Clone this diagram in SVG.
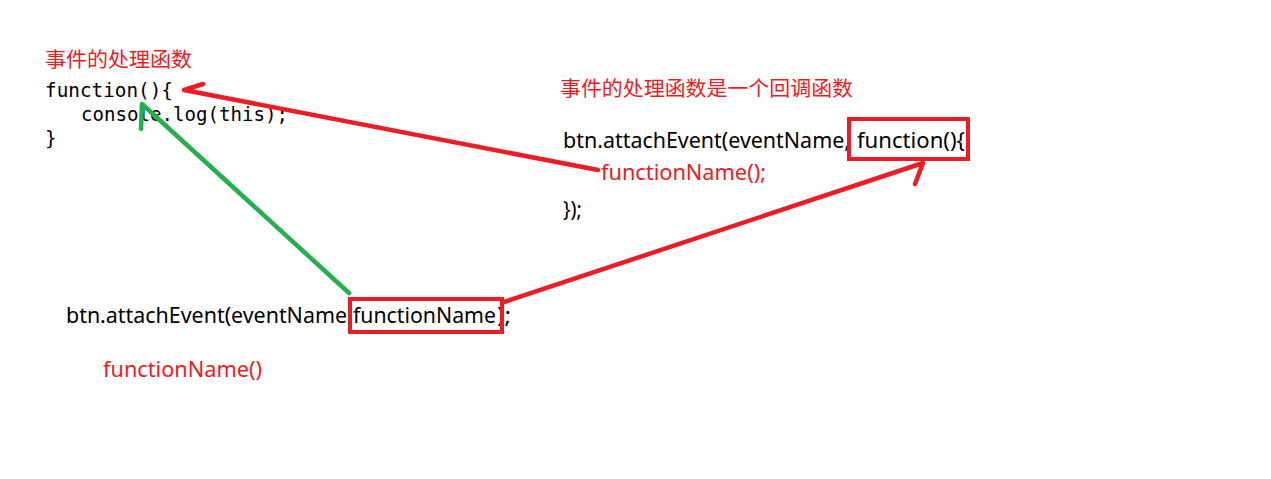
<svg xmlns="http://www.w3.org/2000/svg" width="1271" height="479" viewBox="0 0 1271 479">
<style>
.sans{font-family:"Noto Sans","Open Sans","Noto Sans CJK SC",sans-serif;font-size:21px;fill:#000}
.cjk{font-family:"Noto Sans CJK SC","Noto Sans",sans-serif;font-size:20.5px;fill:#ED1C24}
.mono{font-family:"DejaVu Sans Mono","Liberation Mono",monospace;font-size:19.3px;fill:#000}
.red{fill:#ED1C24}
.box{fill:none;stroke:#ED1C24;stroke-width:4}
.arrow{fill:none;stroke-width:4.5;stroke-linecap:round;stroke-linejoin:round}
</style>
<rect width="1271" height="479" fill="#fff"/>
<g id="handler">
<text class="cjk" x="45" y="67" textLength="147" lengthAdjust="spacingAndGlyphs">事件的处理函数</text>
<text class="mono" x="45" y="97" textLength="128" lengthAdjust="spacingAndGlyphs">function(){</text>
<text class="mono" x="81" y="121" textLength="207" lengthAdjust="spacingAndGlyphs">console.log(this);</text>
<text class="mono" x="45" y="145">}</text>
</g>
<g id="callback">
<text class="cjk" x="560" y="96" textLength="293" lengthAdjust="spacingAndGlyphs">事件的处理函数是一个回调函数</text>
<text class="sans" x="563" y="148" textLength="287" lengthAdjust="spacingAndGlyphs">btn.attachEvent(eventName,</text>
<text class="sans" x="857" y="148" textLength="108" lengthAdjust="spacingAndGlyphs">function(){</text>
<rect class="box" x="849" y="119" width="119" height="40"/>
<text class="sans red" x="601" y="180" textLength="165" lengthAdjust="spacingAndGlyphs">functionName();</text>
<text class="sans" x="563" y="217" textLength="19" lengthAdjust="spacingAndGlyphs">});</text>
</g>
<g id="named">
<text class="sans" x="66" y="323" textLength="281" lengthAdjust="spacingAndGlyphs">btn.attachEvent(eventName</text>
<text class="sans" x="353" y="323" textLength="143" lengthAdjust="spacingAndGlyphs">functionName</text>
<text class="sans" x="497" y="323" textLength="14" lengthAdjust="spacingAndGlyphs">);</text>
<rect class="box" x="350" y="299" width="152" height="33"/>
<text class="sans red" x="103" y="377" textLength="159" lengthAdjust="spacingAndGlyphs">functionName()</text>
</g>
<g id="connectors">
<path class="arrow" stroke="#ED1C24" d="M203,84 L184,90 L598,170"/>
<path class="arrow" stroke="#22B14C" d="M141,129 L142,104 L349,293"/>
<path class="arrow" stroke="#ED1C24" d="M504,302 L923,163 L915,184"/>
</g>
</svg>
